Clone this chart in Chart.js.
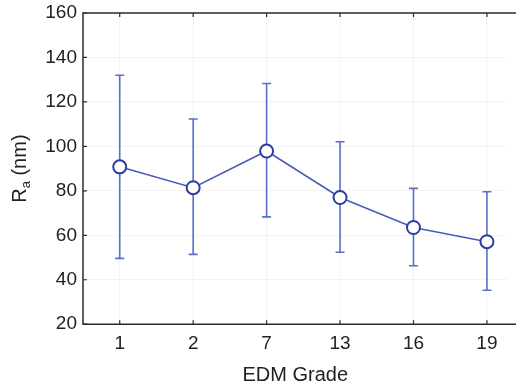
<!DOCTYPE html>
<html>
<head>
<meta charset="utf-8">
<script src="https://cdn.jsdelivr.net/npm/chart.js@4"></script>
<style>
  html, body { margin: 0; padding: 0; background: #fff; }
  #wrap { width: 516px; height: 387px; }
</style>
</head>
<body>
<div id="wrap"><canvas id="raChart"></canvas></div>
<script>
var grades = ['1', '2', '7', '13', '16', '19'];
var raMean = [90.8, 81.4, 97.9, 77.0, 63.5, 57.1];
var raHigh = [132, 112.3, 128.3, 102.1, 81.1, 79.6];
var raLow = [49.6, 51.4, 68.3, 52.4, 46.3, 35.3];
var yTicks = [20, 40, 60, 80, 100, 120, 140, 160];

var fontFamily = '"Liberation Sans", Arial, Helvetica, sans-serif';
var lineBlue = '#4a5cb8';
var barBlue = '#5a6ec8';
var markBlue = '#2a3f9e';

var points = [];
for (var i = 0; i < grades.length; i++) {
  points.push({ x: i, y: raMean[i] });
}

// error bars, drawn under the markers
var errorBars = {
  id: 'errorBars',
  beforeDatasetsDraw: function(chart) {
    var ctx = chart.ctx;
    var xs = chart.scales.x, ys = chart.scales.y;
    ctx.save();
    ctx.strokeStyle = barBlue;
    ctx.lineWidth = 1.6;
    for (var i = 0; i < grades.length; i++) {
      var px = xs.getPixelForValue(i);
      var top = ys.getPixelForValue(raHigh[i]);
      var bot = ys.getPixelForValue(raLow[i]);
      ctx.beginPath();
      ctx.moveTo(px, top); ctx.lineTo(px, bot);
      ctx.moveTo(px - 4.5, top); ctx.lineTo(px + 4.5, top);
      ctx.moveTo(px - 4.5, bot); ctx.lineTo(px + 4.5, bot);
      ctx.stroke();
    }
    ctx.restore();
  }
};

// axis box with inward ticks and the subscripted y title
var axisFrame = {
  id: 'axisFrame',
  afterDraw: function(chart) {
    var ctx = chart.ctx;
    var a = chart.chartArea;
    var xs = chart.scales.x, ys = chart.scales.y;
    ctx.save();
    ctx.strokeStyle = '#2b2b2b';
    ctx.lineWidth = 1.5;
    ctx.beginPath();
    ctx.moveTo(chart.width, a.top); ctx.lineTo(a.left, a.top);
    ctx.lineTo(a.left, a.bottom); ctx.lineTo(chart.width, a.bottom);
    ctx.stroke();
    ctx.lineWidth = 1.2;
    ctx.beginPath();
    for (var i = 0; i < grades.length; i++) {
      var px = xs.getPixelForValue(i);
      ctx.moveTo(px, a.bottom); ctx.lineTo(px, a.bottom - 4);
      ctx.moveTo(px, a.top); ctx.lineTo(px, a.top + 4);
    }
    for (var j = 0; j < yTicks.length; j++) {
      var py = ys.getPixelForValue(yTicks[j]);
      ctx.moveTo(a.left, py); ctx.lineTo(a.left + 4, py);
    }
    ctx.stroke();

    ctx.translate(20, (a.top + a.bottom) / 2);
    ctx.rotate(-Math.PI / 2);
    ctx.fillStyle = '#222';
    ctx.textBaseline = 'middle';
    var big = '20px ' + fontFamily, small = '13px ' + fontFamily;
    ctx.font = big;
    var wR = ctx.measureText('R').width;
    var wRest = ctx.measureText(' (nm)').width;
    ctx.font = small;
    var wSub = ctx.measureText('a').width;
    var x0 = -(wR + wSub + wRest) / 2;
    ctx.font = big;
    ctx.fillText('R', x0, 0);
    ctx.font = small;
    ctx.fillText('a', x0 + wR, 6);
    ctx.font = big;
    ctx.fillText(' (nm)', x0 + wR + wSub, 0);
    ctx.restore();
  }
};

var ctx = document.getElementById('raChart').getContext('2d');
var raChart = new Chart(ctx, {
  type: 'line',
  data: {
    datasets: [{
      data: points,
      borderColor: lineBlue,
      borderWidth: 1.6,
      pointRadius: 6.5,
      pointBorderWidth: 2,
      pointBorderColor: markBlue,
      pointBackgroundColor: '#ffffff',
      tension: 0
    }]
  },
  options: {
    responsive: true,
    maintainAspectRatio: false,
    animation: false,
    layout: { padding: { top: 13, right: 0, bottom: 0, left: 0 } },
    plugins: { legend: { display: false }, tooltip: { enabled: false } },
    scales: {
      x: {
        type: 'linear',
        min: -0.5,
        max: 5.28,
        border: { display: false },
        grid: { color: 'rgba(0,0,0,0.045)', drawTicks: false, borderDash: [1, 3] },
        afterBuildTicks: function(axis) {
          axis.ticks = grades.map(function(g, i) { return { value: i }; });
        },
        ticks: {
          color: '#222',
          font: { family: fontFamily, size: 19 },
          padding: 8,
          maxRotation: 0,
          callback: function(v) { return grades[v]; }
        },
        title: {
          display: true,
          text: 'EDM Grade',
          color: '#222',
          font: { family: fontFamily, size: 20 },
          padding: { top: 0, bottom: 0 }
        }
      },
      y: {
        min: 20,
        max: 160,
        border: { display: false },
        grid: { color: 'rgba(0,0,0,0.045)', drawTicks: false, borderDash: [1, 3] },
        afterBuildTicks: function(axis) {
          axis.ticks = yTicks.map(function(v) { return { value: v }; });
        },
        afterFit: function(axis) {
          axis.width = 83;
          axis.paddingTop = 0;
          axis.paddingBottom = 0;
        },
        ticks: {
          color: '#222',
          font: { family: fontFamily, size: 19, lineHeight: 0.9 },
          padding: 6
        }
      }
    }
  },
  plugins: [errorBars, axisFrame]
});
</script>
</body>
</html>
